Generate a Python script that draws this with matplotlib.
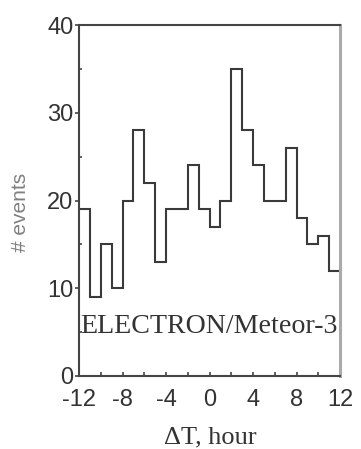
import numpy as np
import matplotlib
matplotlib.use("Agg")
import matplotlib.pyplot as plt
from matplotlib.ticker import MultipleLocator

plt.rcParams["axes.unicode_minus"] = False

# Data
bin_edges = list(range(-12, 13))
counts = [19, 9, 15, 10, 20, 28, 22, 13, 19, 19, 24, 19,
          17, 20, 35, 28, 24, 20, 20, 26, 18, 15, 16, 12]
x_ticks = [-12, -8, -4, 0, 4, 8, 12]
y_ticks = [0, 10, 20, 30, 40]
label_text = "ELECTRON/Meteor-3"
xlabel = "\u0394T, hour"
ylabel = "# events"

fig = plt.figure(figsize=(3.61, 4.49), dpi=100)
ax = fig.add_axes([79/361, 1 - 376/449, 261/361, 351/449])

ax.stairs(counts, bin_edges, baseline=None, color="#3a3a3a", linewidth=1.5)

ax.set_xlim(-12, 12)
ax.set_ylim(0, 40)
ax.set_xticks(x_ticks)
ax.set_yticks(y_ticks)
ax.xaxis.set_minor_locator(MultipleLocator(2))
ax.yaxis.set_minor_locator(MultipleLocator(5))

ax.tick_params(axis="x", which="both", direction="in", length=3, width=1.2,
               color="#444444", labelsize=17, labelcolor="#333333", pad=9)
ax.tick_params(axis="y", which="major", direction="out", length=3, width=1.2,
               color="#444444", labelsize=17, labelcolor="#333333", pad=1)
ax.tick_params(axis="y", which="minor", direction="in", length=2, width=1.2,
               color="#444444")
for lab in ax.get_xticklabels() + ax.get_yticklabels():
    lab.set_family("Liberation Sans")

for side in ["left", "bottom", "top"]:
    ax.spines[side].set_color("#444444")
    ax.spines[side].set_linewidth(1.5)
ax.spines["right"].set_color("#aaaaaa")
ax.spines["right"].set_linewidth(2.2)

ax.text(-11.9, 4.9, label_text, family="Liberation Serif", fontsize=20.2,
        color="#333333", va="baseline", ha="left")

fig.text(210/361, 1 - 443/449, xlabel, family="Liberation Serif", fontsize=19,
         color="#333333", ha="center", va="baseline")
fig.text(21/361, 1 - 212/449, ylabel, family="Liberation Sans", fontsize=15,
         color="#808080", ha="center", va="center", rotation=90)

fig.savefig("out.png", dpi=100)
